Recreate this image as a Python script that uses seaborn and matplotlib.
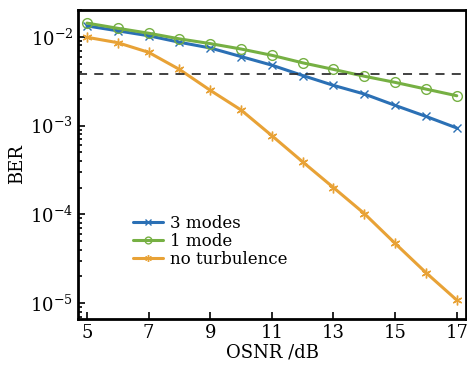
import numpy as np
import pandas as pd
import matplotlib
matplotlib.use("Agg")
import matplotlib.pyplot as plt
import seaborn as sns
from matplotlib.ticker import LogLocator, NullFormatter

osnr = [5, 6, 7, 8, 9, 10, 11, 12, 13, 14, 15, 16, 17]
ber_3modes = [1.33e-2, 1.17e-2, 1.03e-2, 8.7e-3, 7.5e-3, 6.0e-3, 4.8e-3, 3.67e-3, 2.84e-3, 2.27e-3, 1.69e-3, 1.27e-3, 9.4e-4]
ber_1mode = [1.43e-2, 1.25e-2, 1.10e-2, 9.5e-3, 8.4e-3, 7.3e-3, 6.2e-3, 5.1e-3, 4.3e-3, 3.6e-3, 3.07e-3, 2.58e-3, 2.17e-3]
ber_noturb = [9.9e-3, 8.6e-3, 6.7e-3, 4.3e-3, 2.5e-3, 1.5e-3, 7.7e-4, 3.9e-4, 2.0e-4, 1.02e-4, 4.7e-5, 2.2e-5, 1.08e-5]
threshold = 3.8e-3
labels = ["3 modes", "1 mode", "no turbulence"]
colors = ["#2b70b5", "#76b043", "#e8a236"]
markers = ["x", "o", (6, 2, 0)]
msizes = [6, 7, 7]

df = pd.DataFrame({
    "OSNR": osnr * 3,
    "BER": ber_3modes + ber_1mode + ber_noturb,
    "series": [labels[0]] * 13 + [labels[1]] * 13 + [labels[2]] * 13,
})

sns.set_style("ticks")
plt.rcParams["font.family"] = ["DejaVu Serif"]
plt.rcParams["mathtext.fontset"] = "dejavuserif"
plt.rcParams["text.color"] = "black"
plt.rcParams["axes.labelcolor"] = "black"
plt.rcParams["xtick.color"] = "black"
plt.rcParams["ytick.color"] = "black"

fig = plt.figure(figsize=(4.67, 3.67), dpi=100)
ax = fig.add_axes([78/467, 48/367, (466-78)/467, (319-10)/367])

for lab, col, mk, ms in zip(labels, colors, markers, msizes):
    sub = df[df["series"] == lab]
    sns.lineplot(data=sub, x="OSNR", y="BER", ax=ax, color=col, lw=2.2,
                 marker=mk, markersize=ms,
                 markerfacecolor="none" if mk == "o" else col,
                 markeredgecolor=col, markeredgewidth=1.0, label=lab)

ax.axhline(threshold, color="#333333", ls=(0, (5, 4)), lw=1.3)

ax.set_yscale("log")
ax.set_xlim(4.71, 17.3)
ax.set_ylim(10**-5.18, 10**-1.697)
ax.set_xticks([5, 7, 9, 11, 13, 15, 17])
ax.yaxis.set_major_locator(LogLocator(base=10, numticks=10))
ax.yaxis.set_minor_locator(LogLocator(base=10, subs=np.arange(2, 10), numticks=20))
ax.yaxis.set_minor_formatter(NullFormatter())
ax.tick_params(direction="in", which="both", labelsize=13, width=1.2, colors="black")
ax.tick_params(which="major", length=5)
ax.tick_params(which="minor", length=3)
ax.tick_params(axis="x", which="minor", bottom=False)
for s in ax.spines.values():
    s.set_linewidth(2)
    s.set_color("black")
    s.set_visible(True)

ax.set_xlabel("OSNR /dB", fontsize=13, labelpad=1)
ax.set_ylabel("BER", fontsize=13, labelpad=3)

leg = ax.legend(loc="lower left", bbox_to_anchor=(0.125, 0.145), frameon=False,
                fontsize=12, handlelength=1.8, handletextpad=0.4,
                labelspacing=0.05, borderaxespad=0, markerscale=0.7)

fig.savefig("out.png", dpi=100)
